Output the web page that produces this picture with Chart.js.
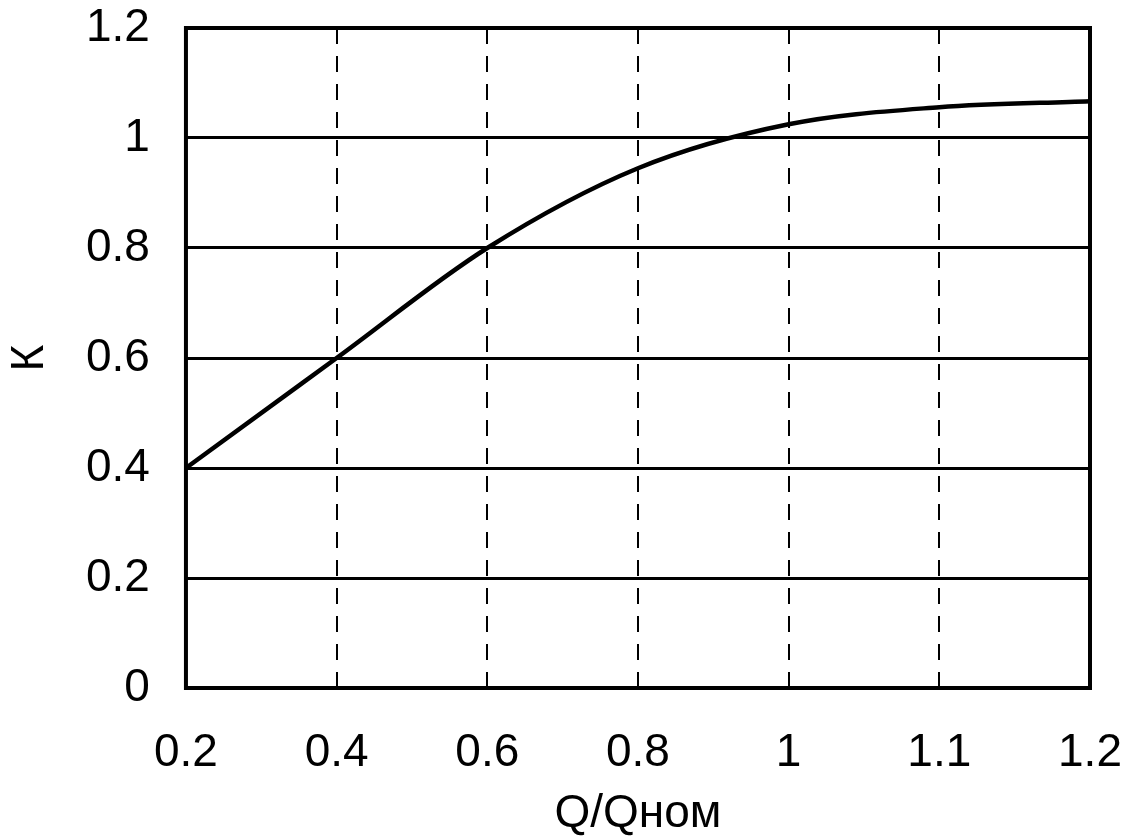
<!DOCTYPE html>
<html>
<head>
<meta charset="utf-8">
<script src="https://cdn.jsdelivr.net/npm/chart.js"></script>
<style>
  html, body { margin: 0; padding: 0; background: #fff; }
  #wrap { width: 1134px; height: 839px; }
</style>
</head>
<body>
<div id="wrap"><canvas id="kChart"></canvas></div>
<script>
// values
const qLabels = ['0.2', '0.4', '0.6', '0.8', '1', '1.1', '1.2'];
const kValues = [0.40, 0.60, 0.80, 0.945, 1.025, 1.056, 1.067];
const yTicks = [0, 0.2, 0.4, 0.6, 0.8, 1, 1.2];

const labelFont = { family: 'Liberation Sans', size: 46, lineHeight: 1 };

// frame around the plot area
const frame = {
    id: 'frame',
    afterDatasetsDraw(chart) {
        const { ctx, chartArea: a } = chart;
        ctx.save();
        ctx.strokeStyle = '#000';
        ctx.lineWidth = 4;
        ctx.strokeRect(a.left, a.top, a.right - a.left, a.bottom - a.top);
        ctx.restore();
    }
};

document.addEventListener("DOMContentLoaded", () => {
    const ctx = document.getElementById('kChart').getContext('2d');
    new Chart(ctx, {
        type: 'line',
        data: {
            labels: qLabels,
            datasets: [{
                label: 'K',
                data: kValues,
                borderColor: '#000',
                borderWidth: 4.5,
                pointRadius: 0,
                cubicInterpolationMode: 'monotone',
                fill: false
            }]
        },
        options: {
            responsive: true,
            maintainAspectRatio: false,
            animation: false,
            layout: { padding: { left: 0, right: 44, top: 28, bottom: 0 } },
            plugins: { legend: { display: false }, tooltip: { enabled: false } },
            scales: {
                x: {
                    grid: { color: '#000', lineWidth: 2, tickLength: 38, tickColor: 'transparent' },
                    border: { display: false, dash: [16, 12] },
                    ticks: { color: '#000', padding: 4, font: labelFont },
                    title: { display: true, text: 'Q/Qном', color: '#000', padding: { top: 11, bottom: 2 }, font: labelFont }
                },
                y: {
                    min: 0,
                    max: 1.2,
                    afterBuildTicks: (s) => { s.ticks = yTicks.map(v => ({ value: v })); },
                    grid: { color: '#000', lineWidth: 3, tickLength: 32, tickColor: 'transparent' },
                    border: { display: false },
                    ticks: { color: '#000', padding: 4, font: labelFont, callback: (v) => String(v) },
                    title: { display: true, text: 'К', color: '#000', padding: { top: 7, bottom: 29 }, font: labelFont }
                }
            }
        },
        plugins: [frame]
    });
});
</script>
</body>
</html>
